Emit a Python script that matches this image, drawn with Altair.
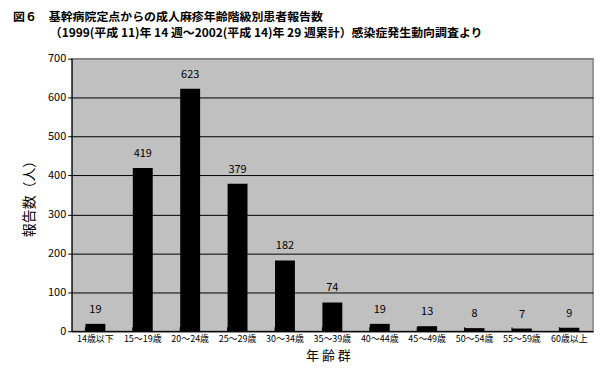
import altair as alt
import pandas as pd

categories = ["14歳以下", "15～19歳", "20～24歳", "25～29歳", "30～34歳", "35～39歳",
              "40～44歳", "45～49歳", "50～54歳", "55～59歳", "60歳以上"]
values = [19, 419, 623, 379, 182, 74, 19, 13, 8, 7, 9]
y_ticks = [0, 100, 200, 300, 400, 500, 600, 700]
title1 = "図６　基幹病院定点からの成人麻疹年齢階級別患者報告数"
title2 = "（1999(平成 11)年 14 週～2002(平成 14)年 29 週累計）感染症発生動向調査より"
x_title = "年 齢 群"

df = pd.DataFrame({"cat": categories, "val": values})

W, H = 524, 274
FONT = "Noto Sans CJK JP"

xenc = alt.X("cat:N", sort=categories, title=None,
             scale=alt.Scale(paddingInner=0.58, paddingOuter=0.29),
             axis=alt.Axis(labelAngle=0, labelFontSize=9, labelColor="black",
                           ticks=False, domainColor="black", labelPadding=3,
                           labelOverlap=False))
yenc = alt.Y("val:Q", title="報告数（人）",
             scale=alt.Scale(domain=[0, 700], nice=False),
             axis=alt.Axis(values=y_ticks, labelFontSize=11, labelColor="black",
                           labelOverlap=False,
                           tickColor="black", tickSize=4, domainColor="black",
                           gridColor=alt.ExprRef("datum.value == 700 ? '#808080' : 'black'"),
                           gridOpacity=1, titleFontSize=14, titleFont=FONT,
                           titleFontWeight="normal", titlePadding=11, titleColor="black"))

base = alt.Chart(df).encode(x=xenc, y=yenc)
bars = base.mark_bar(color="black")
labels = base.mark_text(dy=-9, fontSize=11, color="black", baseline="bottom").encode(text="val:Q")
ticks = alt.Chart(df).mark_rule(color="black").encode(
    x=alt.X("cat:N", sort=categories, bandPosition=0),
    y=alt.value(H), y2=alt.value(H - 4))
t1 = alt.Chart(pd.DataFrame({"t": [title1]})).mark_text(
    align="left", baseline="middle", fontSize=12, fontWeight="bold", font=FONT, color="black"
).encode(x=alt.value(-59), y=alt.value(-42), text="t:N")
t2 = alt.Chart(pd.DataFrame({"t": [title2]})).mark_text(
    align="left", baseline="middle", fontSize=12, fontWeight="bold", font=FONT, color="black"
).encode(x=alt.value(-22), y=alt.value(-26), text="t:N")
xt = alt.Chart(pd.DataFrame({"t": [x_title]})).mark_text(
    align="center", baseline="middle", fontSize=13, font=FONT, color="black"
).encode(x=alt.value(258), y=alt.value(H + 25), text="t:N")

chart = alt.layer(bars, labels, ticks, t1, t2, xt).properties(
    width=W, height=H,
    autosize=alt.AutoSizeParams(type="none"),
    padding={"left": 64, "top": 50, "right": 6, "bottom": 31},
    background="white",
).configure_view(fill="#C0C0C0", stroke="#808080", strokeWidth=1.5).configure_axis(
    labelFont=FONT, titleFont=FONT
).configure_text(font=FONT)

chart.save("out.html", embed_options={"renderer": "svg", "actions": False})
